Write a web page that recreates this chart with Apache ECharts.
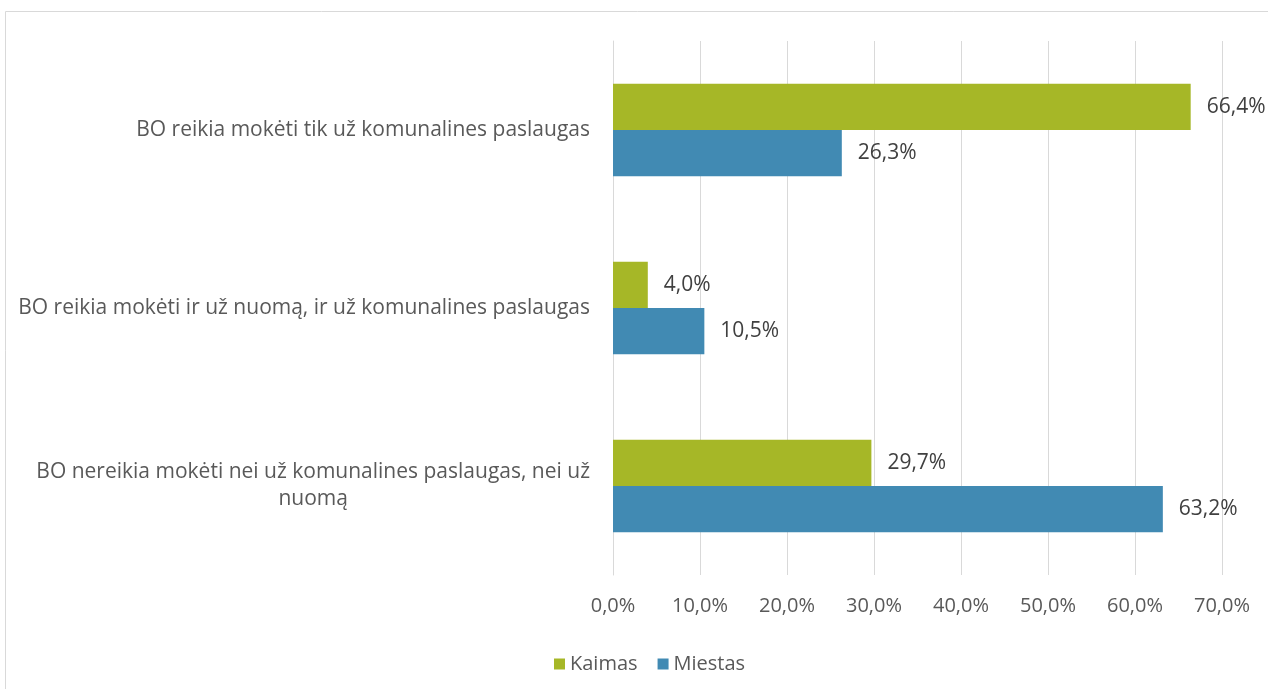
<!DOCTYPE html>
<html>
<head>
<meta charset="utf-8">
<script src="https://cdn.jsdelivr.net/npm/echarts@6/dist/echarts.min.js"></script>
<style>
  html, body { margin: 0; padding: 0; background: #fff; }
  #chart { width: 1268px; height: 689px; }
</style>
</head>
<body>
<div id="chart"></div>
<script>
const categories = [
  'BO reikia mokėti tik už komunalines paslaugas',
  'BO reikia mokėti ir už nuomą, ir už komunalines paslaugas',
  'BO nereikia mokėti nei už komunalines paslaugas, nei už\nnuomą'
]
const kaimas = [66.4, 4.0, 29.7]
const miestas = [26.3, 10.5, 63.2]
const seriesNames = ['Kaimas', 'Miestas']

const fmt = v => v.toFixed(1).replace('.', ',') + '%'

const chart = echarts.init(document.getElementById('chart'))

const option = {
  animation: false,
  textStyle: { fontFamily: 'Open Sans' },
  graphic: [{
    type: 'rect',
    shape: { x: 5.5, y: 11.5, width: 1280, height: 700 },
    style: { fill: 'none', stroke: '#d9d9d9', lineWidth: 1 },
    silent: true
  }],
  grid: { left: 613, right: 46, top: 41, bottom: 114, containLabel: false },
  legend: {
    data: seriesNames,
    left: 549,
    top: 649,
    icon: 'rect',
    itemWidth: 11,
    itemHeight: 11,
    itemGap: 20,
    textStyle: { color: '#595959', fontSize: 20, fontFamily: 'Open Sans' }
  },
  xAxis: {
    type: 'value',
    min: 0,
    max: 70,
    interval: 10,
    axisLine: { show: false },
    axisTick: { show: false },
    splitLine: { lineStyle: { color: '#d9d9d9', width: 1 } },
    axisLabel: {
      formatter: v => fmt(v),
      color: '#595959',
      fontSize: 20,
      margin: 21
    }
  },
  yAxis: {
    type: 'category',
    inverse: true,
    data: categories,
    axisLine: { show: true, lineStyle: { color: '#d9d9d9' } },
    axisTick: { show: false },
    axisLabel: {
      margin: 23,
      color: '#595959',
      fontSize: 21,
      formatter: v => v.split('\n').map(s => '{c|' + s + '}').join('\n'),
      rich: {
        c: { align: 'center', color: '#595959', fontSize: 21, fontFamily: 'Open Sans', lineHeight: 27 }
      }
    }
  },
  series: [
    {
      name: 'Kaimas',
      type: 'bar',
      data: kaimas,
      barGap: '0%',
      barCategoryGap: '48%',
      itemStyle: { color: '#a6b727' },
      label: {
        show: true,
        position: 'right',
        distance: 16,
        color: '#404040',
        fontSize: 21,
        formatter: p => fmt(p.value)
      }
    },
    {
      name: 'Miestas',
      type: 'bar',
      data: miestas,
      barGap: '0%',
      barCategoryGap: '48%',
      itemStyle: { color: '#418ab3' },
      label: {
        show: true,
        position: 'right',
        distance: 16,
        color: '#404040',
        fontSize: 21,
        formatter: p => fmt(p.value)
      }
    }
  ]
}

chart.setOption(option)
</script>
</body>
</html>
